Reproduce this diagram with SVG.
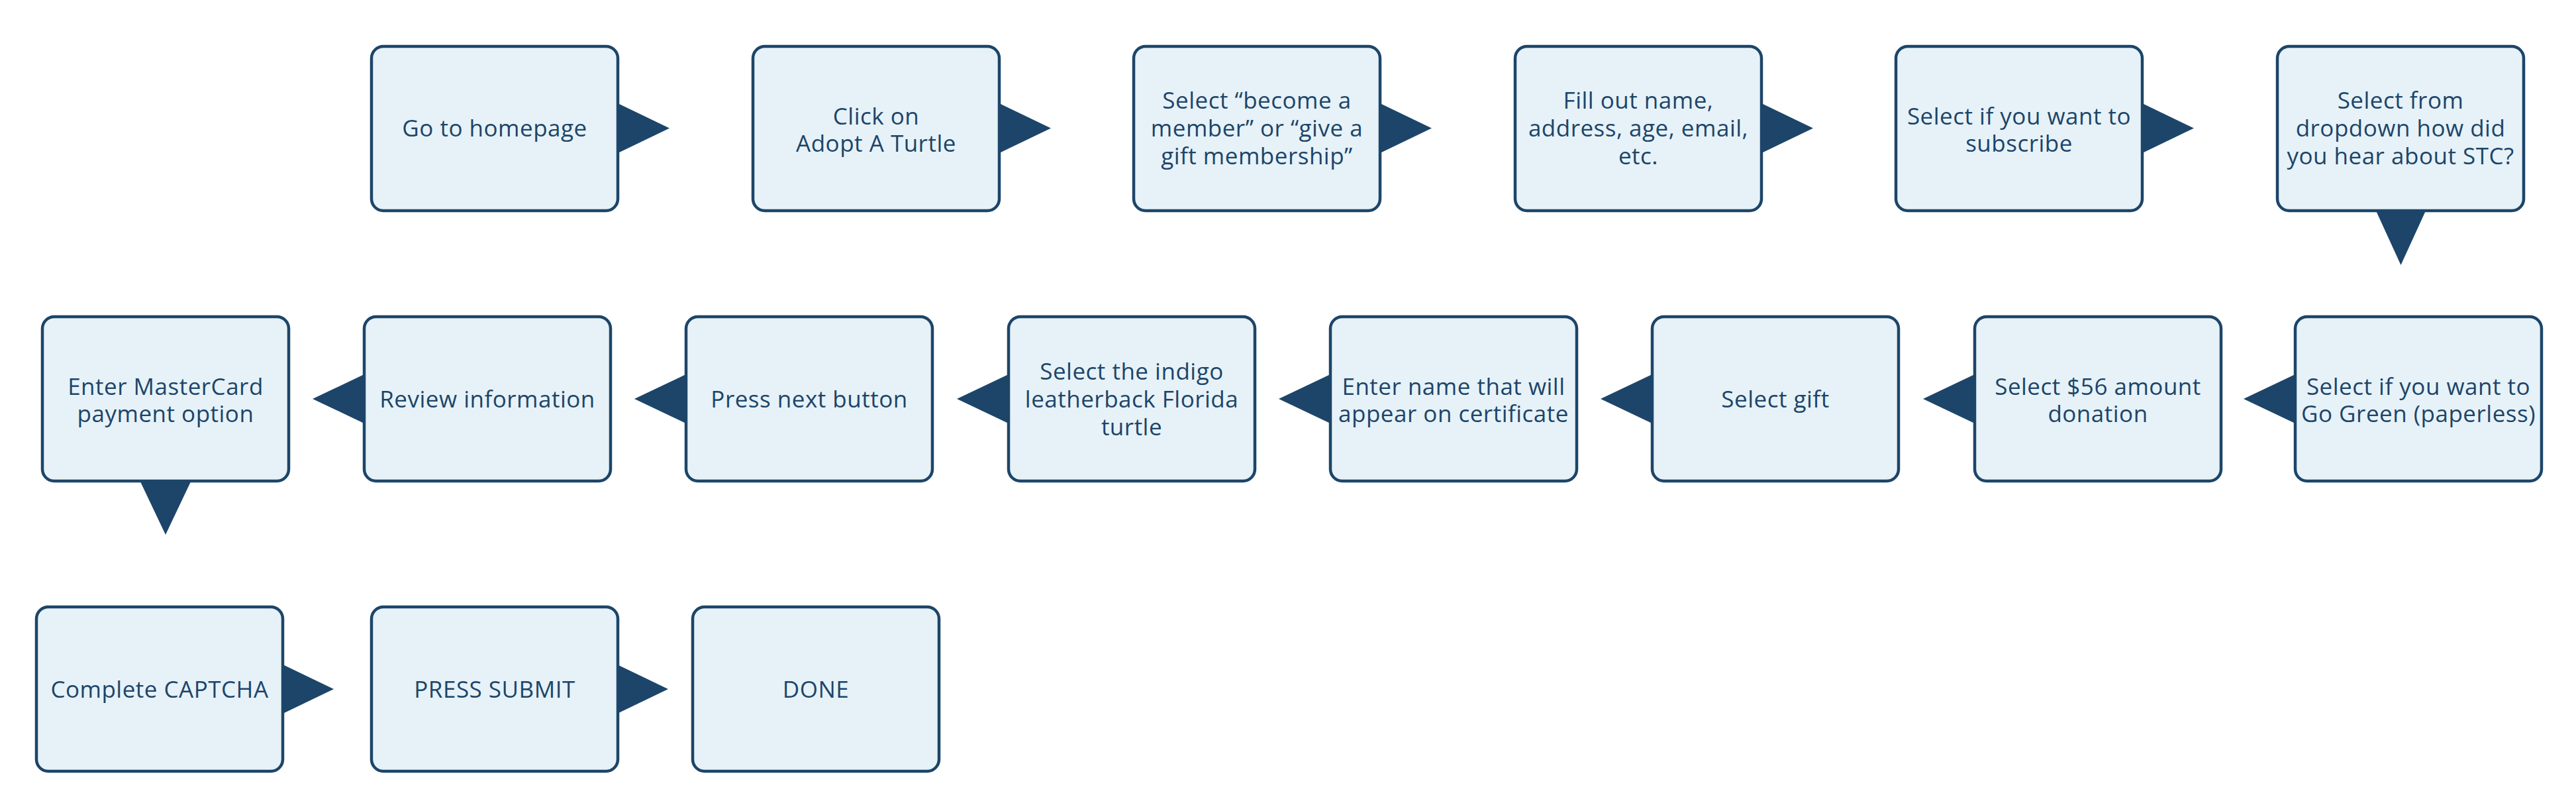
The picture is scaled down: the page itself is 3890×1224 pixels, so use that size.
<svg xmlns="http://www.w3.org/2000/svg" width="3890" height="1224" viewBox="0 0 3890 1224">
<style>
.box{fill:#e6f2f8;stroke:#1d4569;stroke-width:4.5}
.arr{fill:#1d4569;stroke:none}
.t{font-family:"Open Sans","Liberation Sans",sans-serif;font-size:35px;letter-spacing:0.5px;fill:#1d4569;text-anchor:middle}
</style>
<rect width="3890" height="1224" fill="#ffffff"/>
<g id="connectors">
<polygon class="arr" points="931,155 1011,193.5 931,232"/>
<polygon class="arr" points="1507,155 1587,193.5 1507,232"/>
<polygon class="arr" points="2082,155 2162,193.5 2082,232"/>
<polygon class="arr" points="2658,155 2738,193.5 2658,232"/>
<polygon class="arr" points="3233,155 3313,193.5 3233,232"/>
<polygon class="arr" points="3587,316 3625.5,400 3664,316"/>
<polygon class="arr" points="3468,564 3388,602 3468,640"/>
<polygon class="arr" points="2984,564 2904,602 2984,640"/>
<polygon class="arr" points="2497,564 2417,602 2497,640"/>
<polygon class="arr" points="2011,564 1931,602 2011,640"/>
<polygon class="arr" points="1525,564 1445,602 1525,640"/>
<polygon class="arr" points="1038,564 958,602 1038,640"/>
<polygon class="arr" points="552,564 472,602 552,640"/>
<polygon class="arr" points="211,725 250,807 289,725"/>
<polygon class="arr" points="425,1002 504,1040 425,1078"/>
<polygon class="arr" points="930,1002 1009,1040 930,1078"/>
</g>
<g id="n1"><rect class="box" x="561" y="70" width="372" height="248" rx="18"/><text class="t" x="747" y="206">Go to homepage</text></g>
<g id="n2"><rect class="box" x="1137" y="70" width="372" height="248" rx="18"/><text class="t"><tspan x="1323" y="188">Click on</tspan><tspan x="1323" y="229">Adopt A Turtle</tspan></text></g>
<g id="n3"><rect class="box" x="1712" y="70" width="372" height="248" rx="18"/><text class="t"><tspan x="1898" y="164">Select “become a</tspan><tspan x="1898" y="206">member” or “give a</tspan><tspan x="1898" y="248">gift membership”</tspan></text></g>
<g id="n4"><rect class="box" x="2288" y="70" width="372" height="248" rx="18"/><text class="t"><tspan x="2474" y="164">Fill out name,</tspan><tspan x="2474" y="206">address, age, email,</tspan><tspan x="2474" y="248">etc.</tspan></text></g>
<g id="n5"><rect class="box" x="2863" y="70" width="372" height="248" rx="18"/><text class="t"><tspan x="3049" y="188">Select if you want to</tspan><tspan x="3049" y="229">subscribe</tspan></text></g>
<g id="n6"><rect class="box" x="3439" y="70" width="372" height="248" rx="18"/><text class="t"><tspan x="3625" y="164">Select from</tspan><tspan x="3625" y="206">dropdown how did</tspan><tspan x="3625" y="248">you hear about STC?</tspan></text></g>
<g id="n7"><rect class="box" x="3466" y="478" width="372" height="248" rx="18"/><text class="t"><tspan x="3652" y="596">Select if you want to</tspan><tspan x="3652" y="637">Go Green (paperless)</tspan></text></g>
<g id="n8"><rect class="box" x="2982" y="478" width="372" height="248" rx="18"/><text class="t"><tspan x="3168" y="596">Select $56 amount</tspan><tspan x="3168" y="637">donation</tspan></text></g>
<g id="n9"><rect class="box" x="2495" y="478" width="372" height="248" rx="18"/><text class="t" x="2681" y="615">Select gift</text></g>
<g id="n10"><rect class="box" x="2009" y="478" width="372" height="248" rx="18"/><text class="t"><tspan x="2195" y="596">Enter name that will</tspan><tspan x="2195" y="637">appear on certificate</tspan></text></g>
<g id="n11"><rect class="box" x="1523" y="478" width="372" height="248" rx="18"/><text class="t"><tspan x="1709" y="573">Select the indigo</tspan><tspan x="1709" y="615">leatherback Florida</tspan><tspan x="1709" y="657">turtle</tspan></text></g>
<g id="n12"><rect class="box" x="1036" y="478" width="372" height="248" rx="18"/><text class="t" x="1222" y="615">Press next button</text></g>
<g id="n13"><rect class="box" x="550" y="478" width="372" height="248" rx="18"/><text class="t" x="736" y="615">Review information</text></g>
<g id="n14"><rect class="box" x="64" y="478" width="372" height="248" rx="18"/><text class="t"><tspan x="250" y="596">Enter MasterCard</tspan><tspan x="250" y="637">payment option</tspan></text></g>
<g id="n15"><rect class="box" x="55" y="916" width="372" height="248" rx="18"/><text class="t" x="241" y="1053">Complete CAPTCHA</text></g>
<g id="n16"><rect class="box" x="561" y="916" width="372" height="248" rx="18"/><text class="t" x="747" y="1053">PRESS SUBMIT</text></g>
<g id="n17"><rect class="box" x="1046" y="916" width="372" height="248" rx="18"/><text class="t" x="1232" y="1053">DONE</text></g>
</svg>
